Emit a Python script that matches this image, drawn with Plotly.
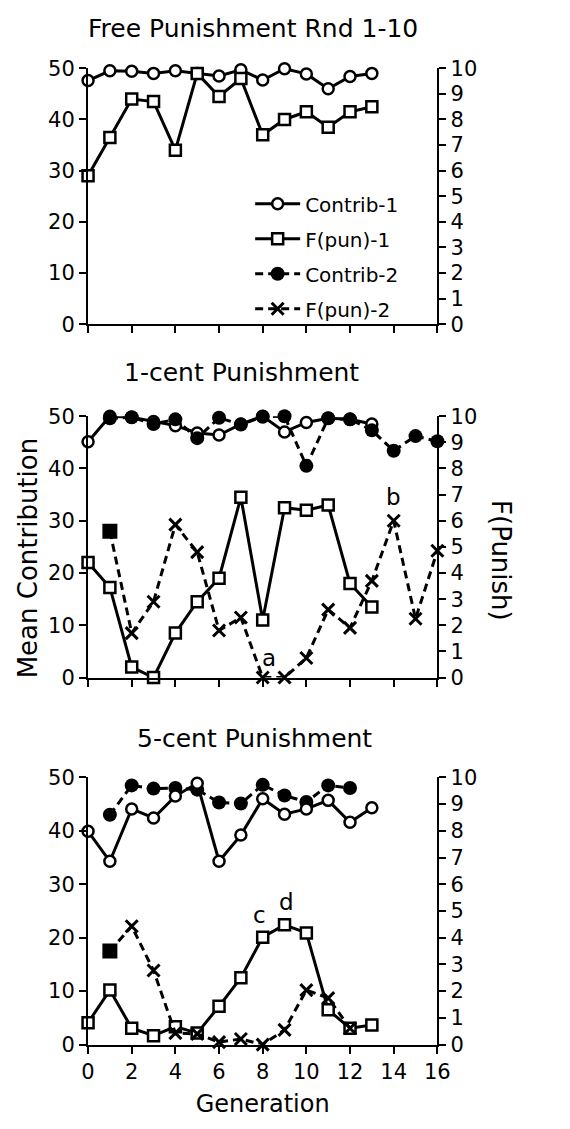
import plotly.graph_objects as go

W, H = 570, 1129
FONT = "DejaVu Sans"

gen = list(range(0, 17))

# Panel 1: Free Punishment Rnd 1-10
p1_contrib1 = [47.6, 49.5, 49.4, 49.0, 49.5, 49.0, 48.5, 49.7, 47.7, 49.9, 48.9, 46.0, 48.4, 49.0]
p1_fpun1 = [5.8, 7.3, 8.8, 8.7, 6.8, 9.8, 8.9, 9.6, 7.4, 8.0, 8.3, 7.7, 8.3, 8.5]

# Panel 2: 1-cent Punishment
p2_contrib1 = [45.1, 50.0, 49.8, 49.0, 48.2, 46.8, 46.4, 48.5, 50.0, 47.0, 48.8, 49.6, 49.4, 48.5]
p2_fpun1 = [4.4, 3.45, 0.4, 0.0, 1.7, 2.9, 3.8, 6.9, 2.2, 6.5, 6.4, 6.6, 3.6, 2.7]
p2_contrib2 = [49.6, 49.8, 48.5, 49.4, 45.8, 49.7, 48.4, 49.9, 50.0, 40.5, 49.6, 49.4, 47.3, 43.4, 46.2, 45.2]
p2_fpun2 = [5.6, 1.7, 2.9, 5.85, 4.8, 1.8, 2.3, 0.0, 0.0, 0.75, 2.6, 1.9, 3.7, 6.0, 2.25, 4.85]

# Panel 3: 5-cent Punishment
p3_contrib1 = [39.9, 34.3, 44.1, 42.4, 46.5, 48.9, 34.3, 39.2, 46.0, 43.1, 44.1, 45.7, 41.6, 44.3]
p3_fpun1 = [0.82, 2.04, 0.61, 0.33, 0.67, 0.43, 1.43, 2.5, 4.02, 4.48, 4.18, 1.3, 0.61, 0.73]
p3_contrib2 = [43.0, 48.5, 47.9, 48.0, 47.7, 45.3, 45.1, 48.6, 46.6, 45.4, 48.5, 48.0]
p3_fpun2 = [3.5, 4.43, 2.77, 0.43, 0.4, 0.09, 0.21, 0.0, 0.55, 2.04, 1.74, 0.61]

titles = ["Free Punishment Rnd 1-10", "1-cent Punishment", "5-cent Punishment"]
left_ticks = [0, 10, 20, 30, 40, 50]
right_ticks = list(range(0, 11))
x_ticks = list(range(0, 17, 2))

LW = 3
DASH = "8px,5px"

def open_circle(x, y, ya, xa, dash="solid"):
    return go.Scatter(x=x, y=y, xaxis=xa, yaxis=ya, mode="lines+markers", showlegend=False,
                      cliponaxis=False,
                      line=dict(color="black", width=LW, dash=dash),
                      marker=dict(symbol="circle", size=11, color="white",
                                  line=dict(color="black", width=2.5)))

def filled_circle(x, y, ya, xa):
    return go.Scatter(x=x, y=y, xaxis=xa, yaxis=ya, mode="lines+markers", showlegend=False,
                      cliponaxis=False,
                      line=dict(color="black", width=LW, dash=DASH),
                      marker=dict(symbol="circle", size=14, color="black",
                                  line=dict(color="black", width=0)))

def open_square(x, y, ya, xa):
    return go.Scatter(x=x, y=y, xaxis=xa, yaxis=ya, mode="lines+markers", showlegend=False,
                      cliponaxis=False,
                      line=dict(color="black", width=LW),
                      marker=dict(symbol="square", size=11, color="white",
                                  line=dict(color="black", width=2.5)))

def cross_line(x, y, ya, xa):
    syms = ["square"] + ["x-thin"] * (len(x) - 1)
    return go.Scatter(x=x, y=y, xaxis=xa, yaxis=ya, mode="lines+markers", showlegend=False,
                      cliponaxis=False,
                      line=dict(color="black", width=LW, dash=DASH),
                      marker=dict(symbol=syms, size=12, color="black",
                                  line=dict(color="black", width=3)))

fig = go.Figure()

# Panel 1
fig.add_trace(open_circle(gen[:14], p1_contrib1, "y", "x"))
fig.add_trace(open_square(gen[:14], p1_fpun1, "y2", "x"))
# Panel 2
fig.add_trace(open_circle(gen[:14], p2_contrib1, "y3", "x2"))
fig.add_trace(filled_circle(gen[1:17], p2_contrib2, "y3", "x2"))
fig.add_trace(open_square(gen[:14], p2_fpun1, "y4", "x2"))
fig.add_trace(cross_line(gen[1:17], p2_fpun2, "y4", "x2"))
# Panel 3
fig.add_trace(filled_circle(gen[1:13], p3_contrib2, "y5", "x3"))
fig.add_trace(open_circle(gen[:14], p3_contrib1, "y5", "x3"))
fig.add_trace(open_square(gen[:14], p3_fpun1, "y6", "x3"))
fig.add_trace(cross_line(gen[1:13], p3_fpun2, "y6", "x3"))

# Legend-only entries
legend_specs = [
    ("Contrib-1", "solid", dict(symbol="circle", size=11, color="white", line=dict(color="black", width=2.5))),
    ("F(pun)-1", "solid", dict(symbol="square", size=11, color="white", line=dict(color="black", width=2.5))),
    ("Contrib-2", DASH, dict(symbol="circle", size=14, color="black", line=dict(color="black", width=0))),
    ("F(pun)-2", DASH, dict(symbol="x-thin", size=12, color="black", line=dict(color="black", width=3))),
]
for i, (name, dash, mk) in enumerate(legend_specs):
    fig.add_trace(go.Scatter(x=[None], y=[None], xaxis="x", yaxis="y", name=name,
                             mode="lines+markers", legendgroup=f"g{i}",
                             line=dict(color="black", width=LW, dash=dash), marker=mk))

# Layout geometry (pixels)
x_left, x_right = 84, 446
panels = [(57.5, 319), (413, 680), (782, 1055)]

def ydom(top, bot):
    return [1 - bot / H, 1 - top / H]

axis_common = dict(showgrid=False, zeroline=False, showline=True, linecolor="black", linewidth=2,
                   ticks="outside", tickcolor="black", tickwidth=2, ticklen=7,
                   tickfont=dict(family=FONT, size=21, color="black"))

layout = dict(width=W, height=H, margin=dict(l=0, r=0, t=0, b=0),
              paper_bgcolor="white", plot_bgcolor="white", font=dict(family=FONT, color="black"))

xdom = [x_left / W, x_right / W]
for i, (top, bot) in enumerate(panels):
    xn = "xaxis" if i == 0 else f"xaxis{i+1}"
    xref = "x" if i == 0 else f"x{i+1}"
    yl = 2 * i + 1
    yr = 2 * i + 2
    yln = "yaxis" if yl == 1 else f"yaxis{yl}"
    yrn = f"yaxis{yr}"
    ylref = "y" if yl == 1 else f"y{yl}"
    layout[xn] = dict(axis_common, domain=xdom, range=[0, 16], tickvals=x_ticks,
                      showticklabels=(i == 2), anchor=ylref,
                      title=dict(text="Generation", font=dict(family=FONT, size=24), standoff=12) if i == 2 else None)
    layout[yln] = dict(axis_common, domain=ydom(top, bot), range=[0, 50], tickvals=left_ticks,
                       anchor=xref)
    layout[yrn] = dict(axis_common, range=[0, 10], tickvals=right_ticks, overlaying=ylref,
                       side="right", anchor=xref)

layout["legend"] = dict(x=252 / W, y=1 - 176 / H, xanchor="left", yanchor="top",
                        bgcolor="rgba(0,0,0,0)", font=dict(family=FONT, size=20, color="black"),
                        itemwidth=45, tracegroupgap=6, traceorder="grouped")

annotations = []
title_pos = [(255, 17), (243, 368), (256, 742)]
for t, (cx, cy) in zip(titles, title_pos):
    annotations.append(dict(text=t, x=cx / W, y=1 - cy / H, xref="paper", yref="paper",
                            showarrow=False, font=dict(family=FONT, size=25, color="black"),
                            xanchor="center", yanchor="middle"))
annotations.append(dict(text="Mean Contribution", x=22 / W, y=1 - 558 / H, xref="paper", yref="paper",
                        showarrow=False, textangle=-90, font=dict(family=FONT, size=26, color="black"),
                        xanchor="center", yanchor="middle"))
annotations.append(dict(text="F(Punish)", x=512 / W, y=1 - 560 / H, xref="paper", yref="paper",
                        showarrow=False, textangle=90, font=dict(family=FONT, size=26, color="black"),
                        xanchor="center", yanchor="middle"))
letters = [("a", 8.3, 3.8, "x2", "y3"), ("b", 14.0, 34.5, "x2", "y3"),
           ("c", 7.85, 24.2, "x3", "y5"), ("d", 9.1, 26.6, "x3", "y5")]
for txt, lx, ly, xr, yr in letters:
    annotations.append(dict(text=txt, x=lx, y=ly, xref=xr, yref=yr, showarrow=False,
                            font=dict(family=FONT, size=23, color="black")))
layout["annotations"] = annotations

fig.update_layout(**layout)
fig.write_html("out.html")
